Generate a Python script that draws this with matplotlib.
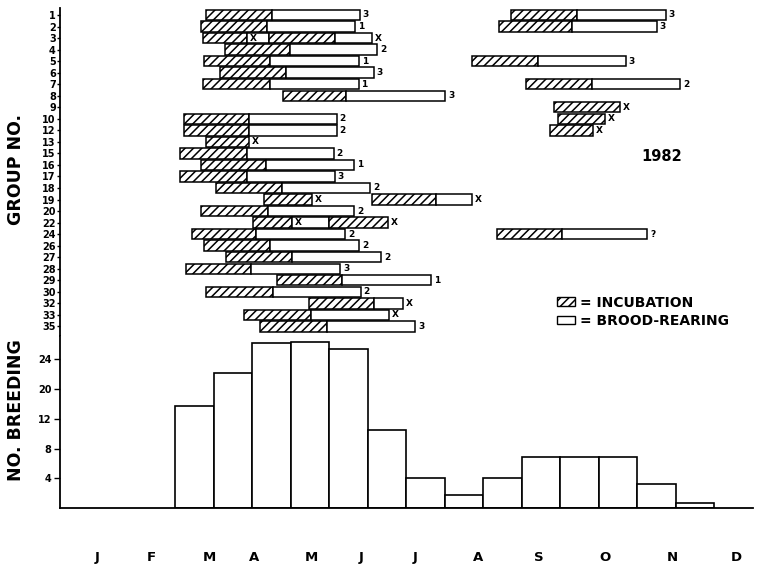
import matplotlib.pyplot as plt
import numpy as np
from matplotlib.patches import Patch

plt.rcParams['font.family'] = 'DejaVu Sans'
plt.rcParams['font.weight'] = 'bold'
plt.rcParams['hatch.linewidth'] = 1.1

# Nomor kelompok (urutan baris dari atas)
kelompok = ['1', '2', '3', '4', '5', '6', '7', '8', '9', '10', '12', '13', '15', '16',
            '17', '18', '19', '20', '22', '24', '26', '27', '28', '29', '30', '32', '33', '35']

# Tiap sarang: kelompok, mulai inkubasi, akhir inkubasi, akhir pengasuhan (dalam bulan), hasil
sarang_kelompok = ['1', '1', '2', '2', '3', '3', '4', '5', '5', '6', '7', '7', '8', '9',
                   '10', '10', '12', '12', '13', '15', '16', '17', '18', '19', '19', '20',
                   '22', '22', '24', '24', '26', '27', '28', '29', '30', '32', '33', '35']
mulai = [2.53, 7.81, 2.44, 7.61, 2.48, 3.62, 2.85, 2.50, 7.13, 2.77, 2.48, 8.07, 3.86, 8.55,
         2.15, 8.63, 2.15, 8.48, 2.53, 2.08, 2.44, 2.08, 2.71, 3.54, 5.40, 2.45,
         3.35, 4.66, 2.28, 7.56, 2.49, 2.87, 2.18, 3.75, 2.53, 4.32, 3.19, 3.46]
akhir_inkubasi = [3.67, 8.96, 3.58, 8.86, 3.24, 4.76, 3.98, 3.64, 8.27, 3.91, 3.64, 9.21, 4.96, 9.70,
                  3.27, 9.43, 3.27, 9.23, 3.27, 3.23, 3.57, 3.23, 3.85, 4.36, 6.51, 3.60,
                  4.01, 5.68, 3.39, 8.70, 3.64, 4.01, 3.31, 4.88, 3.69, 5.44, 4.35, 4.62]
akhir_asuh = [5.19, 10.49, 5.11, 10.33, 3.24, 5.41, 5.49, 5.18, 9.80, 5.43, 5.17, 10.74, 6.67, 9.70,
              4.79, 9.43, 4.79, 9.23, 3.27, 4.74, 5.10, 4.76, 5.37, 4.36, 7.13, 5.10,
              4.01, 5.68, 4.94, 10.17, 5.18, 5.56, 4.85, 6.42, 5.21, 5.94, 5.70, 6.15]
hasil = ['3', '3', '1', '3', 'X', 'X', '2', '1', '3', '3', '1', '2', '3', 'X',
         '2', 'X', '2', 'X', 'X', '2', '1', '3', '2', 'X', 'X', '2',
         'X', 'X', '2', '?', '2', '2', '3', '1', '2', 'X', 'X', '3']
# Sarang ulang yang kotaknya menyambung dengan sarang sebelumnya
sambung = [False] * 38
sambung[5] = True
sambung[27] = True

# Jumlah kelompok berbiak per periode (periode 2/3 bulan mulai 1 Maret)
jumlah_berbiak = [13.7, 18.1, 22.2, 22.3, 21.4, 10.5, 4.1, 1.8, 4.1, 6.9, 6.9, 6.9, 3.2, 0.7]
label_y_berbiak = ['4', '8', '12', '20', '24']

bulan = ['J', 'F', 'M', 'A', 'M', 'J', 'J', 'A', 'S', 'O', 'N', 'D']
posisi_bulan = [0.64, 1.59, 2.58, 3.36, 4.36, 5.21, 6.15, 7.24, 8.29, 9.44, 10.60, 11.72]

fig = plt.figure(figsize=(7.71, 5.64), dpi=100)
ax_atas = fig.add_axes([0.0778, 0.4043, 0.8988, 0.5816])
ax_bawah = fig.add_axes([0.0778, 0.0988, 0.8988, 0.3055])

# Grafik batang waktu berbiak
baris = {k: i for i, k in enumerate(kelompok)}
tinggi = 0.9
for i in range(len(mulai)):
    y = baris[sarang_kelompok[i]]
    if sambung[i]:
        ax_atas.barh(y, mulai[i] - akhir_asuh[i - 1], left=akhir_asuh[i - 1], height=tinggi,
                     facecolor='white', edgecolor='black', linewidth=1.1)
    ax_atas.barh(y, akhir_inkubasi[i] - mulai[i], left=mulai[i], height=tinggi,
                 facecolor='white', edgecolor='black', hatch='////', linewidth=1.1)
    if akhir_asuh[i] > akhir_inkubasi[i]:
        ax_atas.barh(y, akhir_asuh[i] - akhir_inkubasi[i], left=akhir_inkubasi[i], height=tinggi,
                     facecolor='white', edgecolor='black', linewidth=1.1)
    ax_atas.text(akhir_asuh[i] + 0.05, y, hasil[i], fontsize=6.5, fontweight='bold',
                 ha='left', va='center')

ax_atas.set_xlim(0, 12)
ax_atas.set_ylim(27.83, -0.61)
ax_atas.set_yticks(range(len(kelompok)), kelompok)
ax_atas.tick_params(axis='y', length=2, width=1, pad=1, labelsize=7)
ax_atas.set_xticks([])
for s in ['top', 'right', 'bottom']:
    ax_atas.spines[s].set_visible(False)
ax_atas.spines['left'].set_linewidth(1.3)

ax_atas.text(0.869, 0.546, '1982', transform=ax_atas.transAxes, fontsize=10.5,
             fontweight='bold', ha='center', va='center')

legenda = [Patch(facecolor='white', edgecolor='black', hatch='////', linewidth=1, label='= INCUBATION'),
           Patch(facecolor='white', edgecolor='black', linewidth=1, label='= BROOD-REARING')]
ax_atas.legend(handles=legenda, loc='upper left', bbox_to_anchor=(0.722, 0.476),
               bbox_transform=fig.transFigure, frameon=False, fontsize=10,
               handlelength=1.3, handleheight=0.55, handletextpad=0.4,
               labelspacing=0.3, borderpad=0, borderaxespad=0)

# Histogram jumlah berbiak
periode = 2.0 + np.arange(len(jumlah_berbiak)) * (2 / 3)
ax_bawah.bar(periode, jumlah_berbiak, width=2 / 3, align='edge',
             facecolor='white', edgecolor='black', linewidth=1.2)
ax_bawah.set_xlim(0, 12)
ax_bawah.set_ylim(0, 23.1)
ax_bawah.set_yticks([4, 8, 12, 16, 20], label_y_berbiak)
ax_bawah.tick_params(axis='y', length=4, width=1, pad=2, labelsize=7)
ax_bawah.set_xticks(posisi_bulan, bulan)
ax_bawah.tick_params(axis='x', length=0, pad=31, labelsize=9.5)
for s in ['top', 'right']:
    ax_bawah.spines[s].set_visible(False)
ax_bawah.spines['left'].set_linewidth(1.3)
ax_bawah.spines['bottom'].set_linewidth(1.3)

# Judul sumbu
fig.text(0.021, 0.70, 'GROUP NO.', rotation=90, fontsize=12.5, fontweight='bold',
         ha='center', va='center')
fig.text(0.021, 0.273, 'NO. BREEDING', rotation=90, fontsize=12.5, fontweight='bold',
         ha='center', va='center')

plt.savefig('out.png', dpi=100)
